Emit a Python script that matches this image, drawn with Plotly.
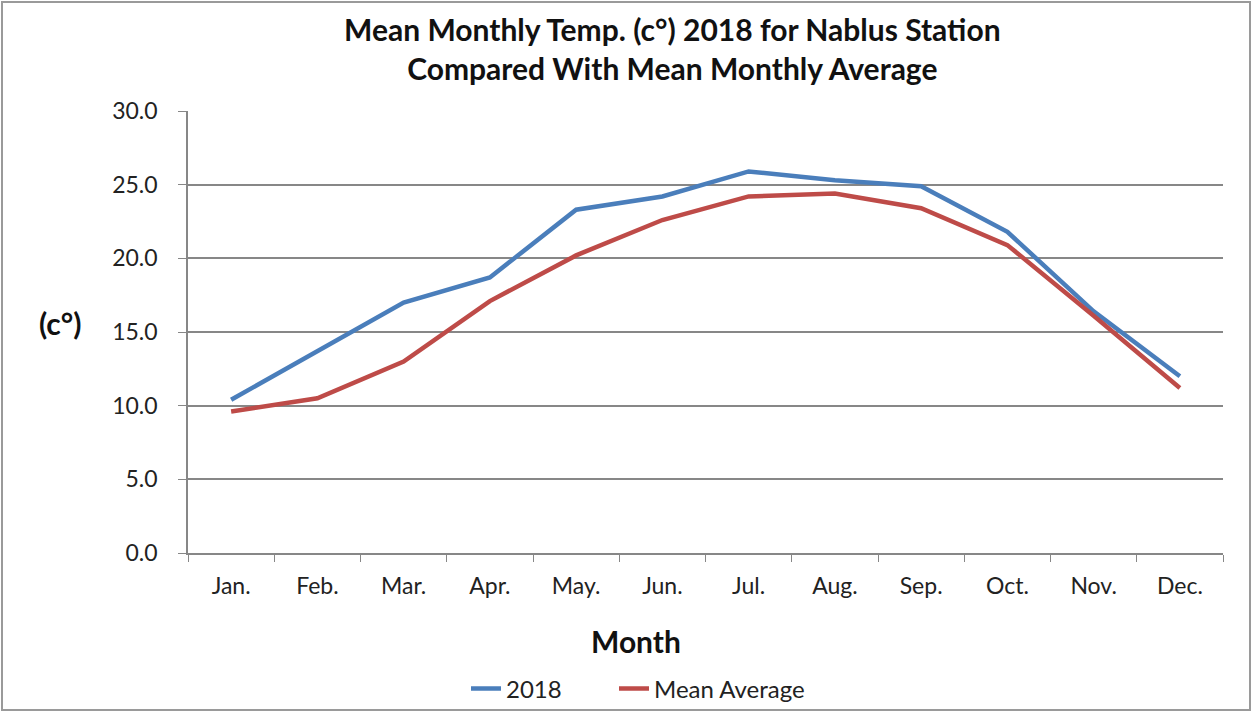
import plotly.graph_objects as go

# Monthly mean temperatures
months = ["Jan.", "Feb.", "Mar.", "Apr.", "May.", "Jun.",
          "Jul.", "Aug.", "Sep.", "Oct.", "Nov.", "Dec."]
temp_2018 = [10.4, 13.7, 17.0, 18.7, 23.3, 24.2, 25.9, 25.3, 24.9, 21.8, 16.4, 12.0]
temp_mean = [9.6, 10.5, 13.0, 17.1, 20.2, 22.6, 24.2, 24.4, 23.4, 20.9, 16.1, 11.2]

W, H = 1252, 712
L, R, T, B = 188, 29, 111, 159
grey = "#878787"
font = "Lato"

fig = go.Figure()
fig.add_trace(go.Scatter(x=months, y=temp_2018, name="2018", mode="lines",
                         line=dict(color="#4A7EBB", width=4.5), legend="legend"))
fig.add_trace(go.Scatter(x=months, y=temp_mean, name="Mean Average", mode="lines",
                         line=dict(color="#BE4B48", width=4.5), legend="legend2"))

pw, ph = W - L - R, H - T - B
leg_style = dict(orientation="h", xanchor="left", y=-(689 - 553) / ph, yanchor="middle",
                 font=dict(size=24, color="#222"), bgcolor="rgba(0,0,0,0)")
fig.update_layout(
    width=W, height=H,
    margin=dict(l=L, r=R, t=T, b=B, autoexpand=False),
    paper_bgcolor="white", plot_bgcolor="white",
    font=dict(family=font, size=23, color="#222"),
    title=dict(text="<b>Mean Monthly Temp. (c°) 2018 for Nablus Station<br>Compared With Mean Monthly Average</b>",
               x=0.537, xanchor="center", y=(H - 41) / H, yanchor="middle",
               font=dict(size=30, color="#111")),
    showlegend=True,
    legend=dict(x=(466 - L) / pw, **leg_style),
    legend2=dict(x=(614 - L) / pw, **leg_style),
    shapes=[dict(type="rect", xref="paper", yref="paper",
                 x0=(2 - L) / pw, x1=(W - 2 - L) / pw,
                 y0=-(H - 2 - T - ph) / ph, y1=(T - 2) / ph + 1,
                 line=dict(color="#9a9a9a", width=2))],
    annotations=[
        dict(text="<b>(c°)</b>", xref="paper", yref="paper",
             x=(60 - L) / pw, y=(553 - 323) / ph, showarrow=False,
             xanchor="center", yanchor="middle",
             font=dict(size=30, color="#111")),
        dict(text="<b>Month</b>", xref="paper", yref="paper",
             x=(636 - L) / pw, y=-(641 - 553) / ph, showarrow=False,
             xanchor="center", yanchor="middle",
             font=dict(size=30, color="#111")),
    ],
)
fig.update_xaxes(type="category", tickson="boundaries", range=[-0.5, 11.5],
                 showline=True, linecolor=grey, linewidth=1.5,
                 ticks="outside", ticklen=7, tickcolor=grey,
                 showgrid=False, ticklabelstandoff=12)
fig.update_yaxes(range=[0, 30], dtick=5, tickformat=".1f",
                 showline=True, linecolor=grey, linewidth=1.5,
                 ticks="outside", ticklen=8, tickcolor=grey,
                 showgrid=True, gridcolor=grey, gridwidth=1.5, zeroline=False,
                 ticklabelstandoff=16)

fig.write_html("out.html", config={"displayModeBar": False},
               post_script="document.body.style.margin='0';")
